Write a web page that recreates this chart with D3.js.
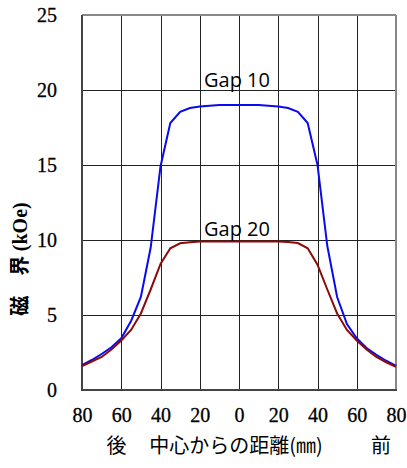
<!DOCTYPE html>
<html>
<head>
<meta charset="utf-8">
<script src="https://cdn.jsdelivr.net/npm/d3@7"></script>
<style>
  html, body { margin: 0; padding: 0; background: #fff; }
  svg { display: block; }
</style>
</head>
<body>
<svg id="chart" width="407" height="468"></svg>
<script>
// ---- data ----
const positions = [-80,-75,-70,-65,-60,-55,-50,-45,-40,-35,-30,-25,-20,-15,-10,-5,0,5,10,15,20,25,30,35,40,45,50,55,60,65,70,75,80];
const gap10 = [1.65,2.0,2.4,2.85,3.45,4.6,6.2,9.5,14.9,17.8,18.55,18.8,18.9,18.95,19.0,19.0,19.0,19.0,19.0,18.95,18.9,18.8,18.55,17.8,15.0,9.6,6.2,4.4,3.45,2.8,2.35,1.95,1.6];
const gap20 = [1.6,1.9,2.2,2.7,3.3,4.0,5.1,6.7,8.4,9.45,9.78,9.85,9.9,9.9,9.9,9.9,9.9,9.9,9.9,9.9,9.9,9.87,9.8,9.45,8.35,6.7,5.1,4.0,3.3,2.7,2.2,1.85,1.55];
const xTicks = [-80,-60,-40,-20,0,20,40,60,80];
const yTicks = [0,5,10,15,20,25];
const seriesLabels = ["Gap 10", "Gap 20"];
const xTitle = ["後", "中心からの距離(㎜)", "前"];
const yTitleCjk = "磁\u3000界 ";
const yTitleUnit = "(kOe)";

// ---- layout ----
const svg = d3.select("#chart");
const L = 82, R = 396, T = 15, B = 390;
const x = d3.scaleLinear().domain([-80, 80]).range([L, R]);
const y = d3.scaleLinear().domain([0, 25]).range([B, T]);

const serif = "'Liberation Serif', 'DejaVu Serif', serif";
const cjk = "'Noto Sans CJK JP', 'Noto Sans', sans-serif";
const sans = "'Open Sans', 'Liberation Sans', sans-serif";

// grid via axes
const gx = svg.append("g").attr("transform", `translate(0,${B})`)
  .call(d3.axisBottom(x).tickValues(xTicks).tickSize(-(B - T)).tickPadding(18)
    .tickFormat(d => Math.abs(d)));
const gy = svg.append("g").attr("transform", `translate(${L},0)`)
  .call(d3.axisLeft(y).tickValues(yTicks).tickSize(-(R - L)).tickPadding(25));

[gx, gy].forEach(g => {
  g.select(".domain").remove();
  g.selectAll(".tick line").attr("stroke", "#222").attr("stroke-width", 1).attr("shape-rendering", "crispEdges");
  g.selectAll(".tick text").attr("font-family", serif).attr("font-size", 20).attr("fill", "#000")
    .attr("stroke", "#000").attr("stroke-width", 0.3);
});

// frame
svg.append("line").attr("x1", L).attr("x2", R).attr("y1", T).attr("y2", T).attr("stroke", "#888").attr("stroke-width", 2);
svg.append("line").attr("x1", R).attr("x2", R).attr("y1", T).attr("y2", B).attr("stroke", "#888").attr("stroke-width", 2);
svg.append("line").attr("x1", L).attr("x2", L).attr("y1", T).attr("y2", B + 1).attr("stroke", "#444").attr("stroke-width", 2);
svg.append("line").attr("x1", L - 1).attr("x2", R + 1).attr("y1", B).attr("y2", B).attr("stroke", "#444").attr("stroke-width", 2);

// lines
const line = d3.line().x((d, i) => x(positions[i])).y(d => y(d));
svg.append("path").datum(gap10).attr("d", line).attr("fill", "none").attr("stroke", "#0a0aee").attr("stroke-width", 2);
svg.append("path").datum(gap20).attr("d", line).attr("fill", "none").attr("stroke", "#8b0a0a").attr("stroke-width", 2);

// series labels
svg.append("text").attr("x", x(0) - 2).attr("y", 87).attr("text-anchor", "middle")
  .attr("font-family", sans).attr("font-size", 20).attr("fill", "#000").text(seriesLabels[0]);
svg.append("text").attr("x", x(0) - 2).attr("y", 235.5).attr("text-anchor", "middle")
  .attr("font-family", sans).attr("font-size", 20).attr("fill", "#000").text(seriesLabels[1]);

// x title
const xt = svg.append("g").attr("font-family", cjk).attr("font-size", 20).attr("fill", "#000");
xt.append("text").attr("x", 116.5).attr("y", 453).attr("text-anchor", "middle").text(xTitle[0]);
xt.append("text").attr("x", 236).attr("y", 453).attr("text-anchor", "middle").text(xTitle[1]);
xt.append("text").attr("x", 381).attr("y", 453).attr("text-anchor", "middle").text(xTitle[2]);

// y title
const yt = svg.append("text").attr("transform", "translate(27,259) rotate(-90)").attr("text-anchor", "middle")
  .attr("font-size", 20).attr("font-weight", "bold").attr("fill", "#000");
yt.append("tspan").attr("font-family", cjk).text(yTitleCjk);
yt.append("tspan").attr("font-family", serif).text(yTitleUnit);
</script>
</body>
</html>
